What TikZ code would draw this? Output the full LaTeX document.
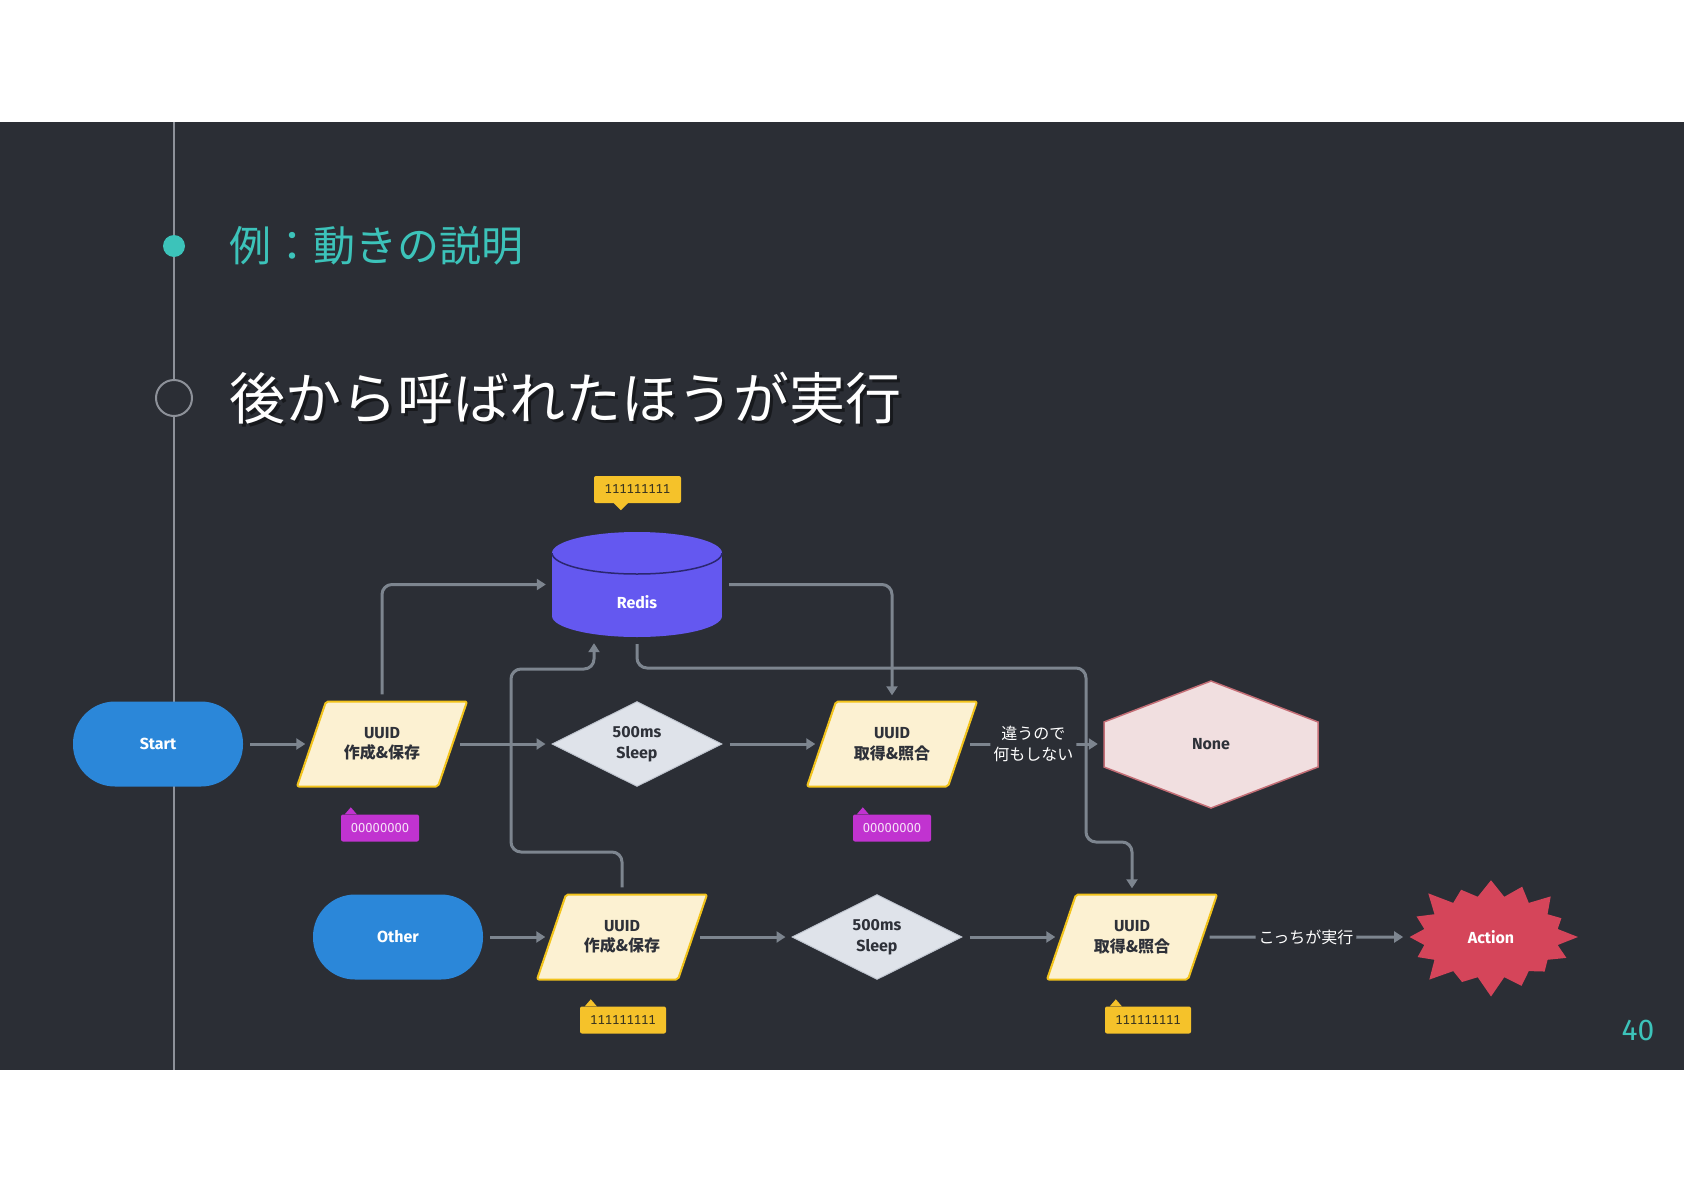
\documentclass[tikz,border=0pt]{standalone}
\usepackage{fontspec}
\setmainfont{Fira Sans}
\newfontfamily\jp{Noto Sans CJK JP}
\usetikzlibrary{shapes.geometric,shapes.symbols,arrows.meta,calc}
\definecolor{bgdark}{HTML}{2B2E35}
\definecolor{tealc}{HTML}{3CC3BA}
\definecolor{linec}{HTML}{7D858F}
\definecolor{tlcolor}{HTML}{8D9199}
\definecolor{bluec}{HTML}{2B87D9}
\definecolor{creamc}{HTML}{FCF1D2}
\definecolor{yellowb}{HTML}{F2C31B}
\definecolor{diafill}{HTML}{DFE3EA}
\definecolor{diaborder}{HTML}{BFC5CF}
\definecolor{redisc}{HTML}{6458F0}
\definecolor{redisline}{HTML}{2B2770}
\definecolor{nonefill}{HTML}{F1DFE0}
\definecolor{noneline}{HTML}{C46E76}
\definecolor{actionc}{HTML}{D5455A}
\definecolor{tagy}{HTML}{F5C22A}
\definecolor{tagm}{HTML}{C133D0}
\definecolor{tagytext}{HTML}{3A3520}
\definecolor{tagmtext}{HTML}{F6E0F8}
\definecolor{darktext}{HTML}{2E3139}
\tikzset{
  nodefont/.style={font=\fontsize{16}{20.5}\selectfont\bfseries},
  termnode/.style={rectangle, rounded corners=42pt, minimum width=170pt, minimum height=85pt, fill=bluec, text=white, nodefont},
  iobox/.style={fill=creamc, draw=yellowb, line width=2pt, rounded corners=2pt, line join=round},
  ionode/.style={rectangle, minimum width=141pt, minimum height=85pt, text=darktext, nodefont, align=center, inner sep=0pt},
  sleepnode/.style={diamond, aspect=2, minimum width=170pt, minimum height=85pt, fill=diafill, draw=diaborder, line width=1pt, text=darktext, nodefont, align=center, inner sep=0pt},
  conn/.style={draw=linec, line width=3pt, rounded corners=10pt, -{Triangle[length=9pt,width=11pt]}, shorten <=7pt, shorten >=6pt},
  lbl/.style={fill=bgdark, text=white, font=\jp\fontsize{16}{20.5}\selectfont, align=center, inner sep=3pt},
  tagnode/.style={rectangle, rounded corners=2pt, minimum height=27pt, inner sep=0pt, font=\fontsize{13}{13}\selectfont\addfontfeatures{Numbers=Monospaced}},
}
\begin{document}
\begin{tikzpicture}[x=1pt,y=-1pt]
\useasboundingbox (0,0) rectangle (1684,1191);
\fill[white] (0,0) rectangle (1684,1191);
\fill[bgdark] (0,122) rectangle (1684,1070);
% timeline
\draw[tlcolor, line width=2pt] (174,122) -- (174,1070);
\fill[tealc] (174,246) circle[radius=11];
\draw[tlcolor, line width=2pt, fill=bgdark] (174,398) circle[radius=18];
% titles
\node[anchor=west, inner sep=0pt, text=tealc, font=\jp\fontsize{42}{50}\selectfont] (title) at (229,246) {例：動きの説明};
\node[anchor=west, inner sep=0pt, text=black, opacity=0.45, font=\jp\fontsize{56}{64}\selectfont] (subshadow) at (232,401) {後から呼ばれたほうが実行};
\node[anchor=west, inner sep=0pt, text=white, font=\jp\fontsize{56}{64}\selectfont] (subtitle) at (229,398) {後から呼ばれたほうが実行};
\node[text=tealc, font=\fontsize{30}{30}\selectfont] (pnum) at (1638,1030) {40};
% redis cylinder
\fill[redisc] (552,553) rectangle (722,616);
\fill[redisc] (637,616) ellipse[x radius=85, y radius=21];
\fill[redisc] (637,553) ellipse[x radius=85, y radius=21];
\begin{scope}
\clip (540,553) rectangle (735,580);
\draw[redisline, line width=1.5pt] (637,553) ellipse[x radius=85, y radius=21];
\end{scope}
\node[minimum width=170pt, minimum height=105pt, inner sep=0pt] (redis) at (637,584.5) {};
\node[text=white, nodefont] (redistext) at (637,602) {Redis};
% none hexagon
\draw[fill=nonefill, draw=noneline, line width=1.5pt] (1211,681) -- (1318,722) -- (1318,767) -- (1211,808) -- (1104,767) -- (1104,722) -- cycle;
\node[minimum width=214pt, minimum height=127pt, inner sep=0pt, text=darktext, nodefont] (none) at (1211,744) {None};
% parallelogram outlines
\foreach \p in {(382,744),(892,744),(622,937),(1132,937)}
  \draw[iobox] \p ++(-85,42.5) -- ++(141,0) -- ++(29,-85) -- ++(-141,0) -- cycle;
% nodes
\node[termnode] (start) at (158,744) {Start};
\node[ionode] (uc1) at (382,744) {UUID\\{\jp 作成\&保存}};
\node[sleepnode] (d1) at (637,744) {500ms\\Sleep};
\node[ionode] (uv1) at (892,744) {UUID\\{\jp 取得\&照合}};
\node[termnode] (other) at (398,937) {Other};
\node[ionode] (uc2) at (622,937) {UUID\\{\jp 作成\&保存}};
\node[sleepnode] (d2) at (877,937) {500ms\\Sleep};
\node[ionode] (uv2) at (1132,937) {UUID\\{\jp 取得\&照合}};
\node[starburst, starburst points=16, starburst point height=22pt, minimum width=180pt, minimum height=126pt, fill=actionc, text=white, nodefont, inner sep=0pt] (action) at (1491,937) {Action};
% tags
\node[tagnode, fill=tagy, text=tagytext, minimum width=87pt] (tagr) at (637.5,489.5) {111111111};
\fill[tagy] ($(tagr.south west)+(20,0)$) -- ++(7,7) -- ++(7,-7) -- cycle;
\node[tagnode, fill=tagm, text=tagmtext, minimum width=78pt] (tag1) at (380,828) {00000000};
\fill[tagm] ($(tag1.north west)+(4,0)$) -- ++(6,-7) -- ++(6,7) -- cycle;
\node[tagnode, fill=tagm, text=tagmtext, minimum width=78pt] (tag2) at (892,828) {00000000};
\fill[tagm] ($(tag2.north west)+(4,0)$) -- ++(6,-7) -- ++(6,7) -- cycle;
\node[tagnode, fill=tagy, text=tagytext, minimum width=86pt] (tag3) at (623,1020) {111111111};
\fill[tagy] ($(tag3.north west)+(5,0)$) -- ++(6,-7) -- ++(6,7) -- cycle;
\node[tagnode, fill=tagy, text=tagytext, minimum width=86pt] (tag4) at (1148,1020) {111111111};
\fill[tagy] ($(tag4.north west)+(5,0)$) -- ++(6,-7) -- ++(6,7) -- cycle;
% connectors
\coordinate (j1) at (511,852);
\coordinate (j2) at (594,669);
\coordinate (k1) at (1086,668);
\coordinate (k2) at (1132,842);
\draw[conn] (uc1.north) |- (redis.west);
\draw[conn] (redis.east) -| (uv1.north);
\draw[conn] (uc2.north) |- (j1) |- (j2) -- (j2 |- redis.south);
\draw[conn] (redis.south) |- (k1) |- (k2) -- (uv2.north);
\draw[conn] (start) -- (uc1);
\draw[conn] (uc1) -- (d1);
\draw[conn] (d1) -- (uv1);
\draw[conn] (uv1) -- node[lbl] (lbl1) {違うので\\何もしない} (none);
\draw[conn] (other) -- (uc2);
\draw[conn] (uc2) -- (d2);
\draw[conn] (d2) -- (uv2);
\draw[conn] (uv2) -- node[lbl] (lbl2) {こっちが実行} (action);
\end{tikzpicture}
\end{document}
